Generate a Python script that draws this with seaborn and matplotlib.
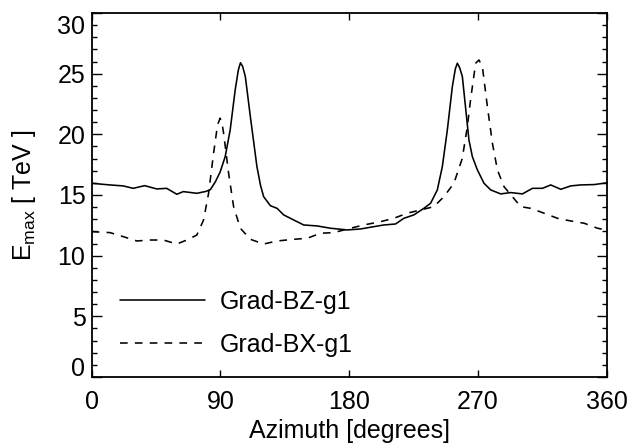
import matplotlib
matplotlib.use("Agg")
import matplotlib.pyplot as plt
import matplotlib.transforms as mtransforms
import seaborn as sns
import numpy as np

# ---- data ----
bz_az = [0, 6, 12.8, 22, 29, 37, 45.5, 52.4, 59.5, 64, 73.5, 80, 83, 86.5, 89.8,
         93.3, 96.8, 100.3, 102.5, 104, 105.5, 107.4, 110.9, 115.5, 118, 120.2,
         124.9, 129.6, 134.2, 141.2, 148.2, 157.6, 166.9, 178.6, 187.9, 197.2,
         204.2, 212.4, 218.2, 225.2, 232.2, 236.9, 241.6, 245.1, 248.6, 252.1,
         254.2, 255.6, 257.2, 259.1, 262, 263.7, 266.1, 269.6, 274.2, 278.9,
         285.9, 292.9, 301.1, 308.1, 315.1, 320.9, 327.9, 334.9, 341.9, 351.3, 360]
bz_emax = [15.97, 15.9, 15.83, 15.75, 15.55, 15.77, 15.5, 15.55, 15.06, 15.28, 15.14,
           15.3, 15.45, 16.1, 16.9, 18.16, 20.36, 23.66, 25.3, 25.9, 25.6, 24.76,
           21.46, 17.34, 15.8, 14.86, 14.12, 13.9, 13.36, 12.94, 12.53, 12.45, 12.26,
           12.12, 12.2, 12.39, 12.53, 12.61, 13.08, 13.36, 13.9, 14.32, 15.42, 17.34,
           20.36, 23.93, 25.4, 25.86, 25.5, 24.76, 21.46, 19.54, 18.16, 17.07, 15.97,
           15.42, 15.09, 15.2, 15.09, 15.55, 15.55, 15.83, 15.47, 15.75, 15.83, 15.86,
           16.0]

bx_az = [0, 12.8, 22, 31.5, 40.8, 50.1, 59.5, 66.5, 73.5, 78.2, 81.7, 85.2, 88,
         89.8, 91, 92.2, 95.7, 99.2, 103.9, 110.9, 120.2, 129.6, 141.2, 150.6,
         159.9, 169.2, 180.9, 190.2, 201.9, 211.2, 220.6, 229.9, 239.2, 246.2,
         253.2, 259, 262.6, 265, 268.4, 270.7, 273.1, 276.6, 280.1, 283.6, 288.2,
         294.1, 299.9, 306.9, 316.2, 325.6, 334.9, 344.3, 353.6, 360]
bx_emax = [11.98, 11.9, 11.57, 11.21, 11.29, 11.29, 10.96, 11.29, 11.7, 12.94, 15.14,
           18.44, 20.8, 21.33, 21.0, 20.09, 16.79, 14.04, 12.26, 11.35, 10.96, 11.21,
           11.35, 11.43, 11.85, 11.9, 12.26, 12.53, 12.8, 13.08, 13.5, 13.77, 14.04,
           14.86, 15.97, 18.0, 20.63, 23.0, 25.86, 26.13, 25.58, 22.28, 19.27, 17.07,
           15.69, 14.86, 14.04, 13.9, 13.5, 13.08, 12.86, 12.67, 12.26, 12.1]

series_labels = ["Grad-BZ-g1", "Grad-BX-g1"]
x_ticks = [0, 90, 180, 270, 360]
y_ticks = [0, 5, 10, 15, 20, 25, 30]

# ---- style ----
sns.set_theme(style="ticks")
plt.rcParams['font.family'] = ['Liberation Sans', 'DejaVu Sans']
plt.rcParams['mathtext.fontset'] = 'custom'
plt.rcParams['mathtext.rm'] = 'Liberation Sans'
plt.rcParams['mathtext.it'] = 'Liberation Sans'

fig = plt.figure(figsize=(6.43, 4.44), dpi=100)
ax = fig.add_axes([91.7 / 643, (444 - 377) / 444, 515 / 643, 364 / 444])
ax.set_facecolor("white")

lw = 1.15
sns.lineplot(x=bz_az, y=bz_emax, ax=ax, color="black", lw=lw,
             label=series_labels[0], estimator=None)
sns.lineplot(x=bx_az, y=bx_emax, ax=ax, color="black", lw=lw,
             label=series_labels[1], estimator=None)
ax.lines[1].set_dashes((4.8, 4.5))

ax.set_xlim(0, 360)
ax.set_ylim(0, 30)
ax.set_xticks(x_ticks)
ax.set_yticks(y_ticks)
ax.set_yticks(np.arange(0, 31, 1), minor=True)

fs = 18
ax.tick_params(axis='both', which='both', direction='in', top=True, right=True,
               color='black', labelsize=fs, labelcolor='black', width=1.0)
ax.tick_params(axis='x', which='major', length=4.7, pad=9)
ax.tick_params(axis='y', which='major', length=7.2, pad=4.5)
ax.tick_params(axis='y', which='minor', length=3.6)
ax.tick_params(axis='x', which='minor', bottom=False, top=False)

for s in ax.spines.values():
    s.set_visible(True)
    s.set_color('black')
    s.set_linewidth(1.3)

ax.set_xlabel("Azimuth [degrees]", fontsize=fs, color='black', labelpad=4)
ax.set_ylabel(r"E$_{\mathrm{max}}$ [ TeV ]", fontsize=fs, color='black')
ax.yaxis.set_label_coords(-0.104, 0.5)

leg = ax.legend(loc='center left', bbox_to_anchor=(0.055, 0.148), frameon=False,
                fontsize=fs, handlelength=3.4, handletextpad=0.6,
                labelspacing=0.76, borderpad=0, borderaxespad=0,
                labelcolor='black')
for h in leg.get_lines():
    h.set_linewidth(lw)
leg.get_lines()[1].set_dashes((4.8, 4.5))

fig.canvas.draw()
for lab in ax.get_yticklabels():
    t = lab.get_text()
    if t == "30":
        lab.set_transform(lab.get_transform() +
                          mtransforms.ScaledTranslation(0, -12 / 100, fig.dpi_scale_trans))
    elif t == "0":
        lab.set_transform(lab.get_transform() +
                          mtransforms.ScaledTranslation(0, 11 / 100, fig.dpi_scale_trans))

fig.savefig("out.png", dpi=100, facecolor="white")
